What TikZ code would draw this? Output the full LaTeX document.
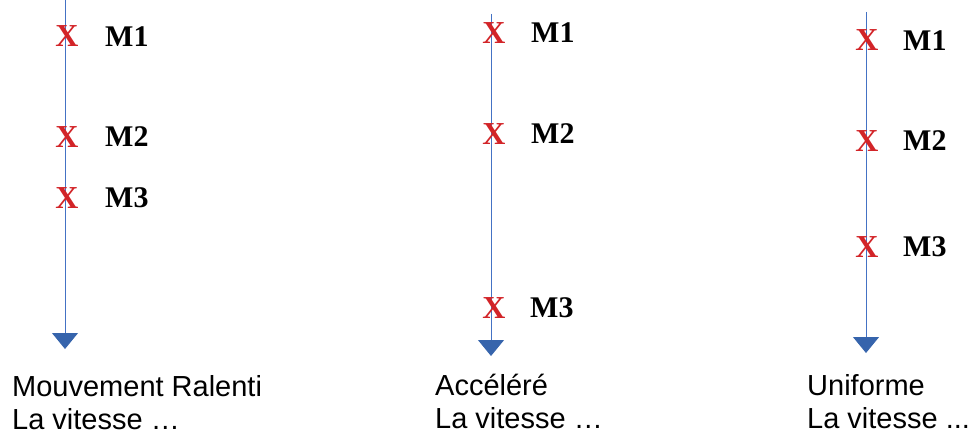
\documentclass[tikz,border=0pt]{standalone}
\usepackage{fontspec}
\setmainfont{Liberation Sans}
\newfontfamily\pointfont{Liberation Serif}
\usetikzlibrary{arrows.meta}
\definecolor{axisblue}{RGB}{68,114,196}
\definecolor{tipblue}{RGB}{54,100,172}
\definecolor{markred}{RGB}{210,36,40}
\tikzset{
  axis/.style={draw=axisblue, line width=0.9pt,
    -{Triangle[width=26pt,length=16pt,fill=tipblue,color=tipblue]}},
  cross/.style={text=markred, font=\pointfont\bfseries\fontsize{32}{32}\selectfont,
    inner sep=0pt, anchor=base},
  plabel/.style={font=\pointfont\bfseries\fontsize{30}{30}\selectfont,
    inner sep=0pt, anchor=base west},
  caption/.style={font=\fontsize{29}{35}\selectfont, inner sep=0pt,
    anchor=base west}
}
\begin{document}
\begin{tikzpicture}[x=1pt,y=-1pt]
\useasboundingbox (0,0) rectangle (973,436);

% first column: slowing down
\coordinate (t1) at (65,0);
\coordinate (e1) at (65,349);
\draw[axis] (t1) -- (e1);
\node[cross] (x11) at (67,47) {X};
\node[cross] (x12) at (67,147) {X};
\node[cross] (x13) at (67,208) {X};
\node[plabel] (m11) at (105,46) {M1};
\node[plabel] (m12) at (105,146) {M2};
\node[plabel] (m13) at (105,207) {M3};
\node[caption] (c11) at (12,396) {Mouvement Ralenti};
\node[caption] (c12) at (12,429) {La vitesse …};

% second column: accelerating
\coordinate (t2) at (491,14);
\coordinate (e2) at (491,356);
\draw[axis] (t2) -- (e2);
\node[cross] (x21) at (494,44) {X};
\node[cross] (x22) at (494,144) {X};
\node[cross] (x23) at (494,318) {X};
\node[plabel] (m21) at (531,43) {M1};
\node[plabel] (m22) at (531,143) {M2};
\node[plabel] (m23) at (530,317) {M3};
\node[caption] (c21) at (435,395) {Accéléré};
\node[caption] (c22) at (435,428) {La vitesse …};

% third column: uniform motion
\coordinate (t3) at (866,12);
\coordinate (e3) at (866,353);
\draw[axis] (t3) -- (e3);
\node[cross] (x31) at (867,51) {X};
\node[cross] (x32) at (867,151) {X};
\node[cross] (x33) at (867,257) {X};
\node[plabel] (m31) at (903,50) {M1};
\node[plabel] (m32) at (903,150) {M2};
\node[plabel] (m33) at (903,256) {M3};
\node[caption] (c31) at (807,395) {Uniforme};
\node[caption] (c32) at (807,428) {La vitesse ...};
\end{tikzpicture}
\end{document}
